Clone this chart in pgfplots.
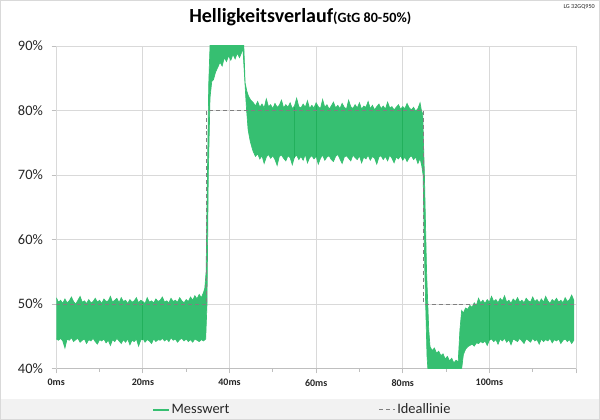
\documentclass[border=0pt]{standalone}
\usepackage{fontspec}
\setmainfont{Carlito}
\usepackage{pgfplots}
\pgfplotsset{compat=1.18}
\usepackage{pgfplotstable}
\definecolor{msgreen}{RGB}{54,191,113}
\definecolor{msdark}{RGB}{34,176,92}
\definecolor{gridc}{RGB}{217,217,217}
\definecolor{axc}{RGB}{191,191,191}
\definecolor{idealc}{RGB}{128,128,128}
\definecolor{txt}{RGB}{38,38,38}
\definecolor{band}{RGB}{242,242,242}

\pgfplotstableread{
x y
0 51.0
0.5 50.3
1 50.6
1.5 50.1
2 50.8
2.5 50.2
3 50.5
3.5 51.1
4 50.4
4.5 50.0
5 50.6
5.5 51.2
6 50.3
6.5 50.5
7 50.1
7.5 50.7
8 50.2
8.5 50.4
9 50.9
9.5 50.3
10 50.6
10.5 50.1
11 50.8
11.5 50.4
12 50.5
12.5 51.2
13 50.3
13.5 50.6
14 50.9
14.5 50.2
15 51.0
15.5 50.4
16 50.6
16.5 50.1
17 50.7
17.5 50.3
18 50.5
18.5 51.0
19 50.2
19.5 50.6
20 50.4
20.5 50.1
21 51.0
21.5 50.3
22 50.5
22.5 50.2
23 50.8
23.5 50.4
24 50.6
24.5 51.1
25 50.3
25.5 50.5
26 50.2
26.5 50.9
27 50.4
27.5 50.6
28 50.3
28.5 51.0
29 50.5
29.5 50.2
30 50.7
30.5 50.4
31 51.1
31.5 50.6
32 51.3
32.5 50.8
33 51.5
33.5 51.0
34 51.8
34.3 52.5
34.6 55.0
34.9 70.0
35.2 84.0
35.6 92.0
43.2 92.0
43.6 84.3
44.0 83.0
44.4 82.2
44.9 81.6
45.5 81.2
46 80.7
46.5 81.4
47 80.5
47.5 81.0
48 80.4
48.5 81.8
49 80.6
49.5 80.9
50 80.3
50.5 81.1
51 80.5
51.5 80.8
52 81.6
52.5 80.4
53 80.9
53.5 80.5
54 81.2
54.5 80.3
55 80.7
55.5 81.9
56 80.6
56.5 80.4
57 81.0
57.5 80.5
58 81.5
58.5 80.3
59 80.8
59.5 80.4
60 81.2
60.5 80.6
61 80.3
61.5 81.7
62 80.5
62.5 80.9
63 80.2
63.5 80.7
64 81.3
64.5 80.4
65 80.8
65.5 80.3
66 81.1
66.5 80.5
67 80.2
67.5 81.6
68 80.6
68.5 80.3
69 80.9
69.5 80.4
70 81.2
70.5 80.2
71 80.7
71.5 80.5
72 81.4
72.5 80.3
73 80.8
73.5 80.1
74 80.6
74.5 81.0
75 80.3
75.5 80.7
76 80.2
76.5 81.3
77 80.4
77.5 80.6
78 80.1
78.5 80.5
79 80.9
79.5 80.2
80 80.6
80.5 80.3
81 81.1
81.5 80.4
82 80.1
82.5 80.5
83 79.9
83.5 80.3
84 81.2
84.3 80.0
84.6 79.5
85.0 70.0
85.5 55.0
86.0 46.0
86.3 43.4
86.8 42.8
87.3 43.2
87.8 42.4
88.3 42.7
88.8 42.0
89.3 42.3
89.8 41.5
90.3 41.9
90.8 41.2
91.3 41.6
91.8 40.9
92.3 41.3
92.8 41.0
93.2 46.0
93.6 49.0
94.0 48.6
94.5 49.4
95.0 49.2
95.5 49.8
96 49.5
96.5 50.2
97 49.8
97.5 50.9
98 50.2
98.5 50.6
99 50.1
99.5 50.7
100 50.3
100.5 51.2
101 50.4
101.5 50.7
102 50.2
102.5 50.9
103 50.5
103.5 51.3
104 50.3
104.5 50.6
105 50.1
105.5 50.8
106 50.4
106.5 51.0
107 50.3
107.5 50.6
108 50.2
108.5 50.9
109 50.5
109.5 50.3
110 51.1
110.5 50.4
111 50.7
111.5 50.2
112 50.8
112.5 50.3
113 51.2
113.5 50.5
114 50.1
114.5 50.7
115 50.4
115.5 50.9
116 50.3
116.5 50.6
117 50.2
117.5 51.0
118 50.4
118.5 50.7
119 51.4
119.5 50.6
}\upperTab

\pgfplotstableread{
x y
0 44.6
0.5 44.4
1 44.7
1.5 44.3
2 43.2
2.5 44.6
3 44.4
3.5 44.8
4 44.2
4.5 44.5
5 44.7
5.5 44.1
6 44.4
6.5 44.6
7 43.9
7.5 44.5
8 44.3
8.5 44.7
9 44.2
9.5 43.8
10 44.5
10.5 44.3
11 44.6
11.5 44.0
12 44.4
12.5 43.6
13 44.5
13.5 44.2
14 44.7
14.5 44.3
15 43.9
15.5 44.5
16 44.1
16.5 44.6
17 43.7
17.5 44.4
18 44.2
18.5 44.6
19 43.5
19.5 44.4
20 44.7
20.5 44.1
21 44.5
21.5 44.3
22 43.9
22.5 44.6
23 44.2
23.5 44.5
24 44.4
24.5 44.7
25 44.3
25.5 44.6
26 44.2
26.5 44.8
27 44.4
27.5 44.6
28 44.1
28.5 44.5
29 44.7
29.5 44.3
30 44.6
30.5 44.2
31 44.5
31.5 44.1
32 44.6
32.5 44.4
33 44.2
33.5 44.5
34 44.3
34.5 44.6
34.8 50.0
35.1 70.0
35.5 82.0
35.9 84.5
36.3 84.8
36.8 86.0
37.3 86.7
37.8 87.5
38.3 86.9
38.8 88.2
39.3 87.6
39.8 88.5
40.3 87.8
40.8 88.7
41.3 88.0
41.8 88.9
42.3 88.2
42.8 89.0
43.1 89.6
43.5 85.0
43.9 80.5
44.3 77.0
44.8 75.2
45.3 74.0
45.5 73.6
46 72.9
46.5 73.3
47 72.5
47.5 73.0
48 71.8
48.5 72.8
49 73.2
49.5 72.6
50 73.0
50.5 72.4
51 71.5
51.5 72.9
52 73.1
52.5 72.6
53 72.2
53.5 73.0
54 72.7
54.5 71.6
55 72.8
55.5 73.1
56 72.4
56.5 72.9
57 72.3
57.5 73.2
58 71.9
58.5 72.7
59 73.0
59.5 72.5
60 72.9
60.5 71.7
61 72.6
61.5 73.1
62 72.3
62.5 72.8
63 73.0
63.5 72.4
64 72.1
64.5 72.9
65 73.2
65.5 72.5
66 71.8
66.5 72.8
67 73.0
67.5 72.6
68 72.2
68.5 73.1
69 72.7
69.5 72.4
70 73.0
70.5 71.9
71 72.8
71.5 72.5
72 73.1
72.5 72.3
73 72.9
73.5 72.6
74 71.7
74.5 72.8
75 73.0
75.5 72.4
76 72.9
76.5 72.2
77 73.1
77.5 72.6
78 71.9
78.5 72.8
79 72.5
79.5 73.0
80 72.3
80.5 72.8
81 72.1
81.5 72.7
82 73.0
82.5 72.4
83 72.8
83.5 71.8
84 72.6
84.4 71.4
84.7 70.0
85.1 55.0
85.6 42.0
86.0 38.0
93.3 38.0
93.6 40.0
94.0 42.2
94.5 43.0
95.0 43.4
95.5 43.6
96 43.8
96.5 43.5
97 44.0
97.5 43.9
98 44.2
98.5 44.0
99 44.3
99.5 43.6
100 44.4
100.5 44.6
101 44.2
101.5 44.5
102 43.8
102.5 44.6
103 44.3
103.5 44.7
104 44.1
104.5 44.5
105 43.7
105.5 44.6
106 44.4
106.5 44.2
107 44.7
107.5 44.3
108 43.9
108.5 44.6
109 44.4
109.5 44.1
110 44.7
110.5 44.3
111 44.5
111.5 43.8
112 44.6
112.5 44.2
113 44.5
113.5 44.3
114 44.7
114.5 44.0
115 44.5
115.5 44.3
116 44.6
116.5 43.9
117 44.4
117.5 44.6
118 44.2
118.5 44.5
119 43.9
119.5 44.4
}\lowerTab

\pgfplotstableread{
x y
0 50
34.7 50
34.7 80
84.8 80
84.8 50
119.5 50
}\idealTab

% band polygon: upper edge forward, lower edge backward
\pgfplotstablesort[sort key=x, sort cmp=float >]{\lowerRev}{\lowerTab}
\pgfplotstablevertcat{\upperTab}{\lowerRev}

\begin{document}
\begin{tikzpicture}
\fill[white] (0,0) rectangle (450pt,315pt);
\fill[band] (0.5pt,0.5pt) rectangle (449.5pt,15.75pt);
\draw[gridc, line width=0.5pt] (0.25pt,0.25pt) rectangle (449.75pt,314.75pt);
\node[anchor=base west, inner sep=0pt, text=black] at (141.75pt,298pt)
  {{\bfseries\fontsize{15}{18}\selectfont Helligkeitsverlauf}{\bfseries\fontsize{10.6}{12}\selectfont(GtG 80-50\%)}};
\node[anchor=base east, inner sep=0pt, text=txt] at (446.25pt,308.5pt)
  {\fontsize{4.6}{5}\selectfont LG 32GQ950};
\begin{axis}[
  at={(42.2pt,38.5pt)}, anchor=south west,
  scale only axis, width=389.8pt, height=242pt,
  xmin=0, xmax=120, ymin=40, ymax=90,
  axis x line*=bottom, axis y line*=left,
  axis line style={axc, line width=0.6pt},
  y axis line style={gridc},
  xtick={0,20,...,120},
  xticklabels={0ms,20ms,40ms,60ms,80ms,100ms,},
  minor xtick={10,30,...,110},
  ytick={40,50,...,90},
  yticklabel={\pgfmathprintnumber{\tick}\%},
  /pgf/number format/assume math mode=true,
  grid=major,
  major grid style={gridc, line width=0.6pt},
  tick style={axc, line width=0.6pt},
  major tick length=3.5pt, minor tick length=2.5pt,
  tick align=outside,
  xticklabel style={font=\bfseries\fontsize{7.5}{9}\selectfont, text=txt, yshift=-1pt},
  yticklabel style={font=\fontsize{10.8}{12}\selectfont, text=txt, xshift=-3pt},
  clip=true,
  legend style={at={(0.1836,-0.128)}, anchor=west, draw=none, fill=none,
    inner sep=0pt, font=\fontsize{10.8}{12}\selectfont, text=txt,
    /tikz/every odd column/.append style={column sep=0pt},
    /tikz/every even column/.append style={column sep=111pt},
    nodes={inner xsep=1pt, inner ysep=0pt}},
  legend columns=2,
  legend cell align=left,
  legend image code/.code={\draw[#1] (0pt,0pt) -- (12pt,0pt);},
]
\addplot[draw=msgreen, fill=msgreen, line width=0.5pt, line join=miter, forget plot] table {\upperTab};
\addplot[msdark, line width=0.6pt, forget plot] coordinates {(20,44.4) (20,50.3)};
\addplot[msdark, line width=0.6pt, forget plot] coordinates {(55,72.6) (55,80.5)};
\addplot[msdark, line width=0.6pt, forget plot] coordinates {(60,72.8) (60,80.9)};
\addplot[msdark, line width=0.6pt, forget plot] coordinates {(80,72.4) (80,80.4)};
\addplot[msdark, line width=0.6pt, forget plot] coordinates {(100,44.5) (100,50.2)};
\addlegendimage{msgreen, line width=1.8pt}
\addlegendentry{Messwert}
\addplot[idealc, line width=0.8pt, dash pattern=on 3pt off 2.2pt] table {\idealTab};
\addlegendentry{Ideallinie}
\end{axis}
\end{tikzpicture}
\end{document}
